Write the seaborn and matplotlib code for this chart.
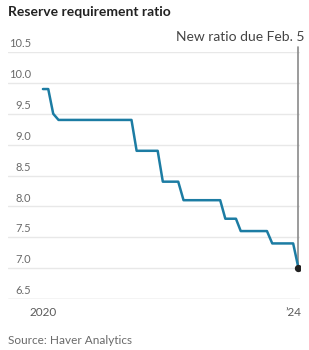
import pandas as pd
import matplotlib
matplotlib.use("Agg")
import matplotlib.pyplot as plt
import matplotlib.transforms as mtransforms
import seaborn as sns

# monthly reserve requirement ratio, Jan 2020 - Feb 2024
months = pd.date_range("2020-01-01", "2024-02-01", freq="MS")
ratio = ([9.9, 9.9, 9.5] + [9.4] * 15 + [8.9] * 5 + [8.4] * 4 + [8.1] * 8
         + [7.8] * 3 + [7.6] * 6 + [7.4] * 5 + [7.0])
y_ticks = [6.5, 7.0, 7.5, 8.0, 8.5, 9.0, 9.5, 10.0, 10.5]
x_ticks = pd.to_datetime(["2020-01-01", "2021-01-01", "2022-01-01", "2023-01-01", "2024-01-01"])
x_labels = ["2020", "", "", "", "\u201924"]

df = pd.DataFrame({"month": months, "ratio": ratio})

sns.set_style("white")
plt.rcParams["font.family"] = ["Lato", "DejaVu Sans"]

fig = plt.figure(figsize=(3.09, 3.5), dpi=100)
ax = fig.add_axes([8 / 309, 51 / 350, 292 / 309, 247 / 350])

sns.lineplot(data=df, x="month", y="ratio", ax=ax, color="#1c7ca3", lw=1.8)

ax.set_ylim(6.5, 10.5)
ax.set_xlim(pd.Timestamp("2019-06-11"), pd.Timestamp("2024-02-10"))

# gridlines + labels sitting on top of them
trans = mtransforms.blended_transform_factory(ax.transAxes, ax.transData)
for v in y_ticks:
    ax.axhline(v, color="#e8e8e8", lw=1, zorder=0)
    ax.text(0.078, v + 0.045, f"{v:.1f}", transform=trans, ha="right", va="bottom",
            fontsize=8, color="#6a6a6a")
ax.axhline(6.5, color="#dddddd", lw=1, zorder=1)
ax.set_yticks([])

ax.set_xticks(x_ticks)
ax.set_xticklabels(x_labels)
ax.tick_params(axis="x", direction="inout", length=5, width=0.8, color="#666666",
               labelsize=8.5, labelcolor="#5a5a5a", pad=3)
for s in ax.spines.values():
    s.set_visible(False)
ax.set_xlabel("")
ax.set_ylabel("")

# marker and annotation for the new ratio
last = df.iloc[-1]
ax.axvline(last["month"], ymin=0.12, ymax=1.02, color="#8a8a8a", lw=1.2, clip_on=False, zorder=1)
ax.scatter([last["month"]], [last["ratio"]], s=18, color="#222222", zorder=5)
fig.text(305 / 309, 1 - 37 / 350, "New ratio due Feb. 5", ha="right", va="center",
         fontsize=10, color="#444444")

fig.text(8 / 309, 1 - 12 / 350, "Reserve requirement ratio", ha="left", va="center",
         fontsize=10, fontweight="bold", color="#222222")
fig.text(8 / 309, 1 - 341 / 350, "Source: Haver Analytics", ha="left", va="center",
         fontsize=8.5, color="#6a6a6a")

fig.savefig("out.png", dpi=100)
